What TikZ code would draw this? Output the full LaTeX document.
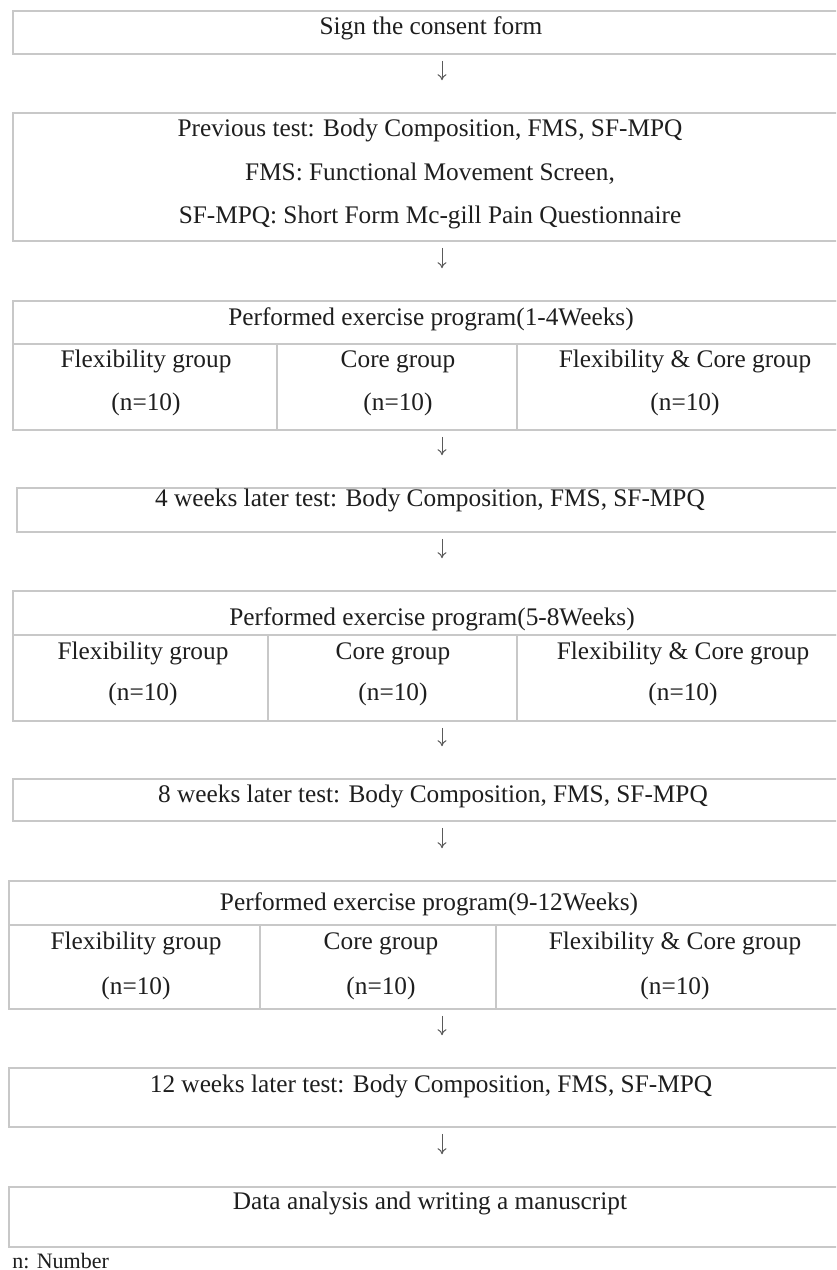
\documentclass[tikz,border=0pt]{standalone}
\usepackage{fontspec}
\setmainfont{Liberation Serif}
\usetikzlibrary{fit,arrows.meta}
\definecolor{boxline}{HTML}{C8C8C8}
\definecolor{txtcol}{HTML}{1E1E1E}
\definecolor{arrcol}{HTML}{5A5A5A}
\begin{document}
\begin{tikzpicture}[x=0.5pt,y=-0.5pt,
  box/.style={draw=boxline, line width=0.8pt, inner sep=0pt, rectangle},
  txt/.style={text=txtcol, font=\fontsize{12.65}{15}\selectfont, inner sep=0pt, anchor=base},
  note/.style={text=txtcol, font=\fontsize{11}{13}\selectfont, inner sep=0pt, anchor=base west},
  arr/.style={draw=arrcol, line width=0.5pt, -{To[length=3pt,width=4.5pt]}, shorten <=3pt, shorten >=16pt}]
\useasboundingbox (0,0) rectangle (836,1270);
\clip (0,0) rectangle (836,1270);
\fill[white] (0,0) rectangle (836,1270);
\coordinate (ax) at (442,0);

% Box 1
\node[box, fit={(13,11) (854,54)}] (b1) {};
\node[txt] (t1) at (431,34) {Sign the consent form};

% Box 2
\node[box, fit={(13,113) (854,241)}] (b2) {};
\node[txt] (t2a) at (430,136) {Previous test: Body Composition, FMS, SF-MPQ};
\node[txt] (t2b) at (430,180) {FMS: Functional Movement Screen,};
\node[txt] (t2c) at (430,223) {SF-MPQ: Short Form Mc-gill Pain Questionnaire};

% Box 3
\node[box, fit={(13,301) (854,430)}] (b3) {};
\node[box, fit={(13,301) (854,344)}] (b3h) {};
\node[box, fit={(13,344) (277,430)}] (b3c1) {};
\node[box, fit={(277,344) (517,430)}] (b3c2) {};
\node[box, fit={(517,344) (854,430)}] (b3c3) {};
\node[txt] (t3h) at (431,325) {Performed exercise program(1-4Weeks)};
\node[txt] (t3a1) at (146,367) {Flexibility group};
\node[txt] (t3a2) at (146,410) {(n=10)};
\node[txt] (t3b1) at (398,367) {Core group};
\node[txt] (t3b2) at (398,410) {(n=10)};
\node[txt] (t3c1) at (685,367) {Flexibility \& Core group};
\node[txt] (t3c2) at (685,410) {(n=10)};

% Box 4
\node[box, fit={(17,488) (854,532)}] (b4) {};
\node[txt] (t4) at (430,506) {4 weeks later test: Body Composition, FMS, SF-MPQ};

% Box 5
\node[box, fit={(13,591) (854,721)}] (b5) {};
\node[box, fit={(13,591) (854,635)}] (b5h) {};
\node[box, fit={(13,635) (268,721)}] (b5c1) {};
\node[box, fit={(268,635) (517,721)}] (b5c2) {};
\node[box, fit={(517,635) (854,721)}] (b5c3) {};
\node[txt] (t5h) at (432,625) {Performed exercise program(5-8Weeks)};
\node[txt] (t5a1) at (143,659) {Flexibility group};
\node[txt] (t5a2) at (143,700) {(n=10)};
\node[txt] (t5b1) at (393,659) {Core group};
\node[txt] (t5b2) at (393,700) {(n=10)};
\node[txt] (t5c1) at (683,659) {Flexibility \& Core group};
\node[txt] (t5c2) at (683,700) {(n=10)};

% Box 6
\node[box, fit={(13,779) (854,821)}] (b6) {};
\node[txt] (t6) at (433,802) {8 weeks later test: Body Composition, FMS, SF-MPQ};

% Box 7
\node[box, fit={(9,881) (854,1009)}] (b7) {};
\node[box, fit={(9,881) (854,925)}] (b7h) {};
\node[box, fit={(9,925) (260,1009)}] (b7c1) {};
\node[box, fit={(260,925) (496,1009)}] (b7c2) {};
\node[box, fit={(496,925) (854,1009)}] (b7c3) {};
\node[txt] (t7h) at (429,910) {Performed exercise program(9-12Weeks)};
\node[txt] (t7a1) at (136,949) {Flexibility group};
\node[txt] (t7a2) at (136,994) {(n=10)};
\node[txt] (t7b1) at (381,949) {Core group};
\node[txt] (t7b2) at (381,994) {(n=10)};
\node[txt] (t7c1) at (675,949) {Flexibility \& Core group};
\node[txt] (t7c2) at (675,994) {(n=10)};

% Box 8
\node[box, fit={(9,1068) (854,1127)}] (b8) {};
\node[txt] (t8) at (431,1092) {12 weeks later test: Body Composition, FMS, SF-MPQ};

% Box 9
\node[box, fit={(9,1187) (854,1247)}] (b9) {};
\node[txt] (t9) at (430,1209) {Data analysis and writing a manuscript};

% Note
\node[note] (nn) at (12,1268) {n: Number};

% Arrows
\draw[arr] (b1.south -| ax) -- (b2.north -| ax);
\draw[arr] (b2.south -| ax) -- (b3.north -| ax);
\draw[arr] (b3.south -| ax) -- (b4.north -| ax);
\draw[arr] (b4.south -| ax) -- (b5.north -| ax);
\draw[arr] (b5.south -| ax) -- (b6.north -| ax);
\draw[arr] (b6.south -| ax) -- (b7.north -| ax);
\draw[arr] (b7.south -| ax) -- (b8.north -| ax);
\draw[arr] (b8.south -| ax) -- (b9.north -| ax);
\end{tikzpicture}
\end{document}
